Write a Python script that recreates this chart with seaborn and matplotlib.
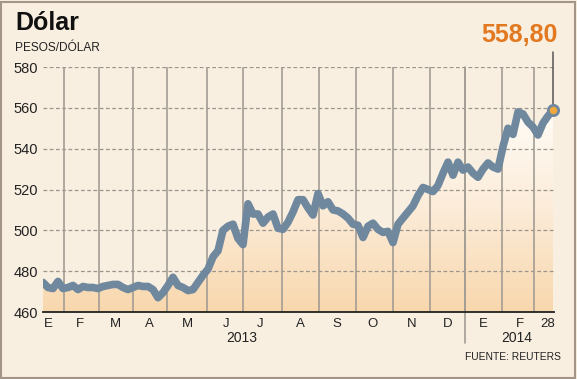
import matplotlib

matplotlib.use("Agg")
import matplotlib.pyplot as plt
import numpy as np
import pandas as pd
import seaborn as sns
from matplotlib.colors import LinearSegmentedColormap
from matplotlib.patches import Rectangle

# Tipo de cambio, pesos por dolar (muestreado a intervalos regulares)
valores = [
    474.5, 472.0, 471.5, 475.0, 471.5, 472.0, 473.0, 471.0, 472.5, 472.0,
    472.0, 471.5, 472.5, 473.0, 473.5, 473.5, 472.0, 471.0, 472.0, 473.0,
    472.5, 472.5, 471.0, 467.0, 469.5, 473.0, 477.0, 473.0, 472.0, 470.5,
    471.0, 474.5, 478.0, 481.0, 487.0, 490.0, 500.0, 502.0, 503.0, 496.0,
    493.0, 513.0, 508.0, 508.0, 503.5, 506.5, 508.0, 501.0, 500.5, 504.0,
    509.0, 515.0, 515.0, 511.0, 507.5, 518.0, 512.0, 514.0, 510.0, 509.5,
    508.0, 506.0, 503.0, 502.5, 496.5, 502.0, 503.5, 500.5, 499.0, 499.5,
    494.0, 503.0, 506.0, 509.0, 512.0, 517.0, 521.0, 520.0, 519.0, 522.0,
    528.0, 533.4, 527.0, 533.4, 529.5, 531.0, 528.0, 526.0, 530.0, 533.0,
    531.0, 530.0, 541.0, 550.0, 547.0, 558.0, 557.0, 553.0, 550.6, 546.7,
    552.5, 556.0, 558.8,
]
ultimo_valor = "558,80"

# Cortes de mes (en unidades del eje x) y etiquetas
cortes_mes = [4.2, 11.2, 18.0, 24.8, 32.8, 40.0, 47.8, 55.2, 62.6, 70.0,
              77.4, 84.4, 91.8, 98.2]
corte_anio = 84.4
meses = ["E", "F", "M", "A", "M", "J", "J", "A", "S", "O", "N", "D", "E", "F", "28"]
pos_meses = [1.0, 7.4, 14.4, 21.2, 28.8, 36.6, 43.4, 51.4, 58.8, 66.0,
             73.8, 81.0, 88.0, 95.4, 101.0]
anios = ["2013", "2014"]
pos_anios = [39.8, 94.8]
y_ticks = [460, 480, 500, 520, 540, 560, 580]

FONDO = "#f8efe1"
LINEA = "#70889e"
NARANJA = "#e2781f"

df = pd.DataFrame({"x": np.arange(len(valores)), "valor": valores})

sns.set_theme(style="white")
plt.rcParams["font.family"] = ["Liberation Sans", "DejaVu Sans"]

fig = plt.figure(figsize=(5.77, 3.79), dpi=100, facecolor=FONDO)
ax = fig.add_axes([43 / 577, 1 - 312 / 379, 511 / 577, 245 / 379])
ax.set_facecolor(FONDO)

x_max = 102.2
ax.set_xlim(0, x_max)
ax.set_ylim(460, 580)

# Relleno degradado bajo la curva
poly = ax.fill_between(df["x"], df["valor"], 460, facecolor="none", edgecolor="none")
grad = np.linspace(0, 1, 256).reshape(-1, 1)
cmap = LinearSegmentedColormap.from_list("dg", ["#f8d7ad", "#fcecd9", "#fffdf8"])
img = ax.imshow(grad, cmap=cmap, extent=[0, x_max, 460, 562], origin="lower",
                aspect="auto", zorder=1)
img.set_clip_path(poly.get_paths()[0], transform=ax.transData)

# Rejilla
for yv in y_ticks[1:]:
    ax.axhline(yv, color="#9a958d", lw=0.9, ls=(0, (3, 2)), zorder=2)
for xv in cortes_mes:
    ax.axvline(xv, color="#a39d94", lw=1.2, zorder=2)
ax.plot([corte_anio, corte_anio], [580, 445], color="#a39d94", lw=1.2,
        clip_on=False, zorder=2)

sns.lineplot(data=df, x="x", y="valor", ax=ax, color=LINEA, lw=5.5,
             solid_capstyle="round", solid_joinstyle="round", zorder=4)

# Ultimo dato
ult_x = df["x"].iloc[-1]
ult_y = df["valor"].iloc[-1]
ax.plot([ult_x, ult_x], [ult_y, 587.5], color="#555555", lw=1.1, clip_on=False, zorder=3)
ax.scatter([ult_x], [ult_y], s=55, color="#f2a93b", edgecolor=LINEA, linewidth=2,
           zorder=5, clip_on=False)
ax.text(ult_x + 1.0, 590, ultimo_valor, ha="right", va="bottom", fontsize=18,
        fontweight="bold", color=NARANJA)

for s in ["top", "right", "left"]:
    ax.spines[s].set_visible(False)
ax.spines["bottom"].set_color("#222222")
ax.spines["bottom"].set_linewidth(1.3)
ax.spines["bottom"].set_zorder(6)

ax.set_yticks(y_ticks)
ax.set_yticklabels([str(v) for v in y_ticks])
ax.tick_params(axis="y", length=0, pad=3.5, labelsize=10.5, labelcolor="#222222")
ax.set_xticks(pos_meses)
ax.set_xticklabels(meses)
ax.tick_params(axis="x", length=0, pad=4, labelsize=9.5, labelcolor="#222222")
ax.set_xlabel("")
ax.set_ylabel("")

for lab, px in zip(anios, pos_anios):
    ax.text(px, 447.5, lab, ha="center", va="center", fontsize=10, color="#222222")

fig.text(15 / 577, 1 - 23 / 379, "Dólar", fontsize=18, fontweight="bold",
         color="#111111", va="center", ha="left")
fig.text(15 / 577, 1 - 48 / 379, "PESOS/DÓLAR", fontsize=8.6, color="#222222",
         va="center", ha="left")
fig.text(561 / 577, 1 - 357 / 379, "FUENTE: REUTERS", fontsize=7.4, color="#222222",
         va="center", ha="right")

fig.patches.append(Rectangle((1 / 577, 1 / 379), 574 / 577, 376 / 379,
                             transform=fig.transFigure, fill=False,
                             edgecolor="#a39587", lw=1.5))

fig.savefig("out.png", dpi=100, facecolor=FONDO)
